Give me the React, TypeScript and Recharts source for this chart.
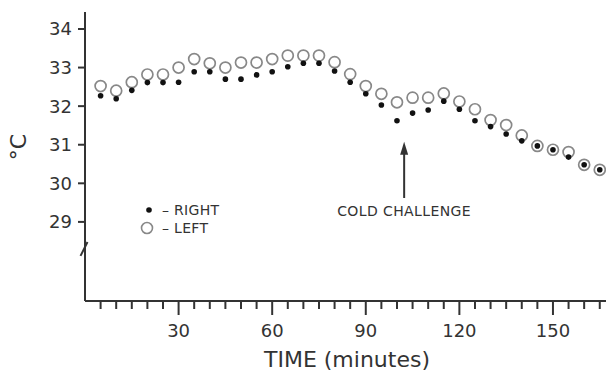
import React from "react";
import { Legend, ReferenceLine, Scatter, ScatterChart, XAxis, YAxis } from "recharts";

// minutes after start
const times = [
  5, 10, 15, 20, 25, 30, 35, 40, 45, 50, 55, 60, 65, 70, 75, 80, 85, 90, 95, 100, 105, 110, 115,
  120, 125, 130, 135, 140, 145, 150, 155, 160, 165,
];
const rightTemps = [
  32.27, 32.19, 32.41, 32.61, 32.61, 32.62, 32.89, 32.89, 32.7, 32.7, 32.81, 32.89, 33.02, 33.11,
  33.11, 32.91, 32.62, 32.32, 32.03, 31.62, 31.82, 31.9, 32.13, 31.92, 31.62, 31.47, 31.28, 31.1,
  30.97, 30.87, 30.68, 30.48, 30.35,
];
const leftTemps = [
  32.52, 32.4, 32.62, 32.82, 32.82, 33.0, 33.22, 33.11, 33.0, 33.13, 33.13, 33.22, 33.31, 33.31,
  33.31, 33.14, 32.83, 32.52, 32.32, 32.1, 32.22, 32.22, 32.33, 32.12, 31.92, 31.64, 31.51, 31.24,
  30.97, 30.87, 30.81, 30.48, 30.35,
];
const xTicks = [
  5, 10, 15, 20, 25, 30, 35, 40, 45, 50, 55, 60, 65, 70, 75, 80, 85, 90, 95, 100, 105, 110, 115,
  120, 125, 130, 135, 140, 145, 150, 155, 160, 165,
];
const xLabels = [30, 60, 90, 120, 150];
const yTicks = [29, 30, 31, 32, 33, 34];
const challengeTime = 102.3;

const rightData = times.map((t, i) => ({ t, v: rightTemps[i] }));
const leftData = times.map((t, i) => ({ t, v: leftTemps[i] }));

const INK = "#333";
const FONT = "'DejaVu Sans', sans-serif";

const XTick = ({ x, y, payload }: any) => {
  const major = xLabels.includes(payload.value);
  return (
    <g>
      <line x1={x} x2={x} y1={y} y2={y + (major ? 14 : 8)} stroke={INK} strokeWidth={2} />
      {major && (
        <text x={x} y={y + 36} textAnchor="middle" fontSize={18} fill={INK} fontFamily={FONT}>
          {payload.value}
        </text>
      )}
    </g>
  );
};

const ArrowShape = (p: any) => {
  const x = p.x1;
  const top = Math.min(p.y1, p.y2);
  const bottom = Math.max(p.y1, p.y2);
  return (
    <g>
      <line x1={x} x2={x} y1={top + 10} y2={bottom} stroke={INK} strokeWidth={2} />
      <polygon points={`${x},${top} ${x - 4},${top + 13} ${x + 4},${top + 13}`} fill={INK} />
      <text
        x={x}
        y={bottom + 18}
        textAnchor="middle"
        fontSize={14}
        letterSpacing={0.4}
        fill={INK}
        fontFamily={FONT}
      >
        COLD CHALLENGE
      </text>
    </g>
  );
};

const LegendBox = () => (
  <div style={{ fontFamily: FONT, fontSize: 14, color: INK, letterSpacing: 0.3, lineHeight: "18px" }}>
    <div style={{ display: "flex", alignItems: "center" }}>
      <svg width={16} height={14}>
        <circle cx={9} cy={7} r={2.8} fill="#111" />
      </svg>
      <span style={{ marginLeft: 6 }}>– RIGHT</span>
    </div>
    <div style={{ display: "flex", alignItems: "center" }}>
      <svg width={16} height={14}>
        <circle cx={7} cy={7} r={5.5} fill="none" stroke="#888" strokeWidth={1.6} />
      </svg>
      <span style={{ marginLeft: 6 }}>– LEFT</span>
    </div>
  </div>
);

export default function App() {
  return (
    <div style={{ position: "absolute", left: 0, top: 0, background: "#fff", fontFamily: FONT }}>
      <ScatterChart width={606} height={375} margin={{ top: 12, right: 0, bottom: 0, left: 1 }}>
        <XAxis
          type="number"
          dataKey="t"
          domain={[0, 167]}
          ticks={xTicks}
          interval={0}
          tickLine={false}
          tickSize={0}
          tickMargin={0}
          tick={<XTick />}
          height={74}
          axisLine={{ stroke: INK, strokeWidth: 2 }}
          allowDataOverflow
          label={() => (
            <text x={347} y={367} textAnchor="middle" fontSize={22} fill={INK} fontFamily={FONT}>
              TIME (minutes)
            </text>
          )}
        />
        <YAxis
          type="number"
          dataKey="v"
          domain={[26.95, 34.44]}
          ticks={yTicks}
          interval={0}
          allowDataOverflow
          width={84}
          tickSize={7}
          tickMargin={6}
          tickLine={{ stroke: INK, strokeWidth: 2 }}
          axisLine={{ stroke: INK, strokeWidth: 2 }}
          tick={{ fontSize: 18, fill: INK, fontFamily: FONT }}
          label={() => (
            <text
              x={26}
              y={147}
              textAnchor="middle"
              fontSize={22}
              fill={INK}
              fontFamily={FONT}
              transform="rotate(-90 26 147)"
            >
              °C
            </text>
          )}
        />
        <Legend
          layout="horizontal"
          verticalAlign="middle"
          align="center"
          content={<LegendBox />}
          wrapperStyle={{ position: "absolute", left: 140, top: 201, width: "auto" }}
        />
        <ReferenceLine
          segment={[
            { x: 0, y: 28.48 },
            { x: 0, y: 28.12 },
          ]}
          stroke="#fff"
          strokeWidth={5}
          ifOverflow="visible"
        />
        <ReferenceLine
          segment={[
            { x: -1.44, y: 28.12 },
            { x: 0.8, y: 28.48 },
          ]}
          stroke={INK}
          strokeWidth={2}
          ifOverflow="visible"
        />
        <ReferenceLine
          segment={[
            { x: challengeTime, y: 29.62 },
            { x: challengeTime, y: 31.08 },
          ]}
          shape={<ArrowShape />}
          ifOverflow="visible"
        />
        <Scatter
          name="LEFT"
          data={leftData}
          isAnimationActive={false}
          shape={(p: any) => (
            <circle cx={p.cx} cy={p.cy} r={5.5} fill="none" stroke="#888" strokeWidth={1.7} />
          )}
        />
        <Scatter
          name="RIGHT"
          data={rightData}
          isAnimationActive={false}
          shape={(p: any) => <circle cx={p.cx} cy={p.cy} r={2.8} fill="#111" />}
        />
      </ScatterChart>
    </div>
  );
}
